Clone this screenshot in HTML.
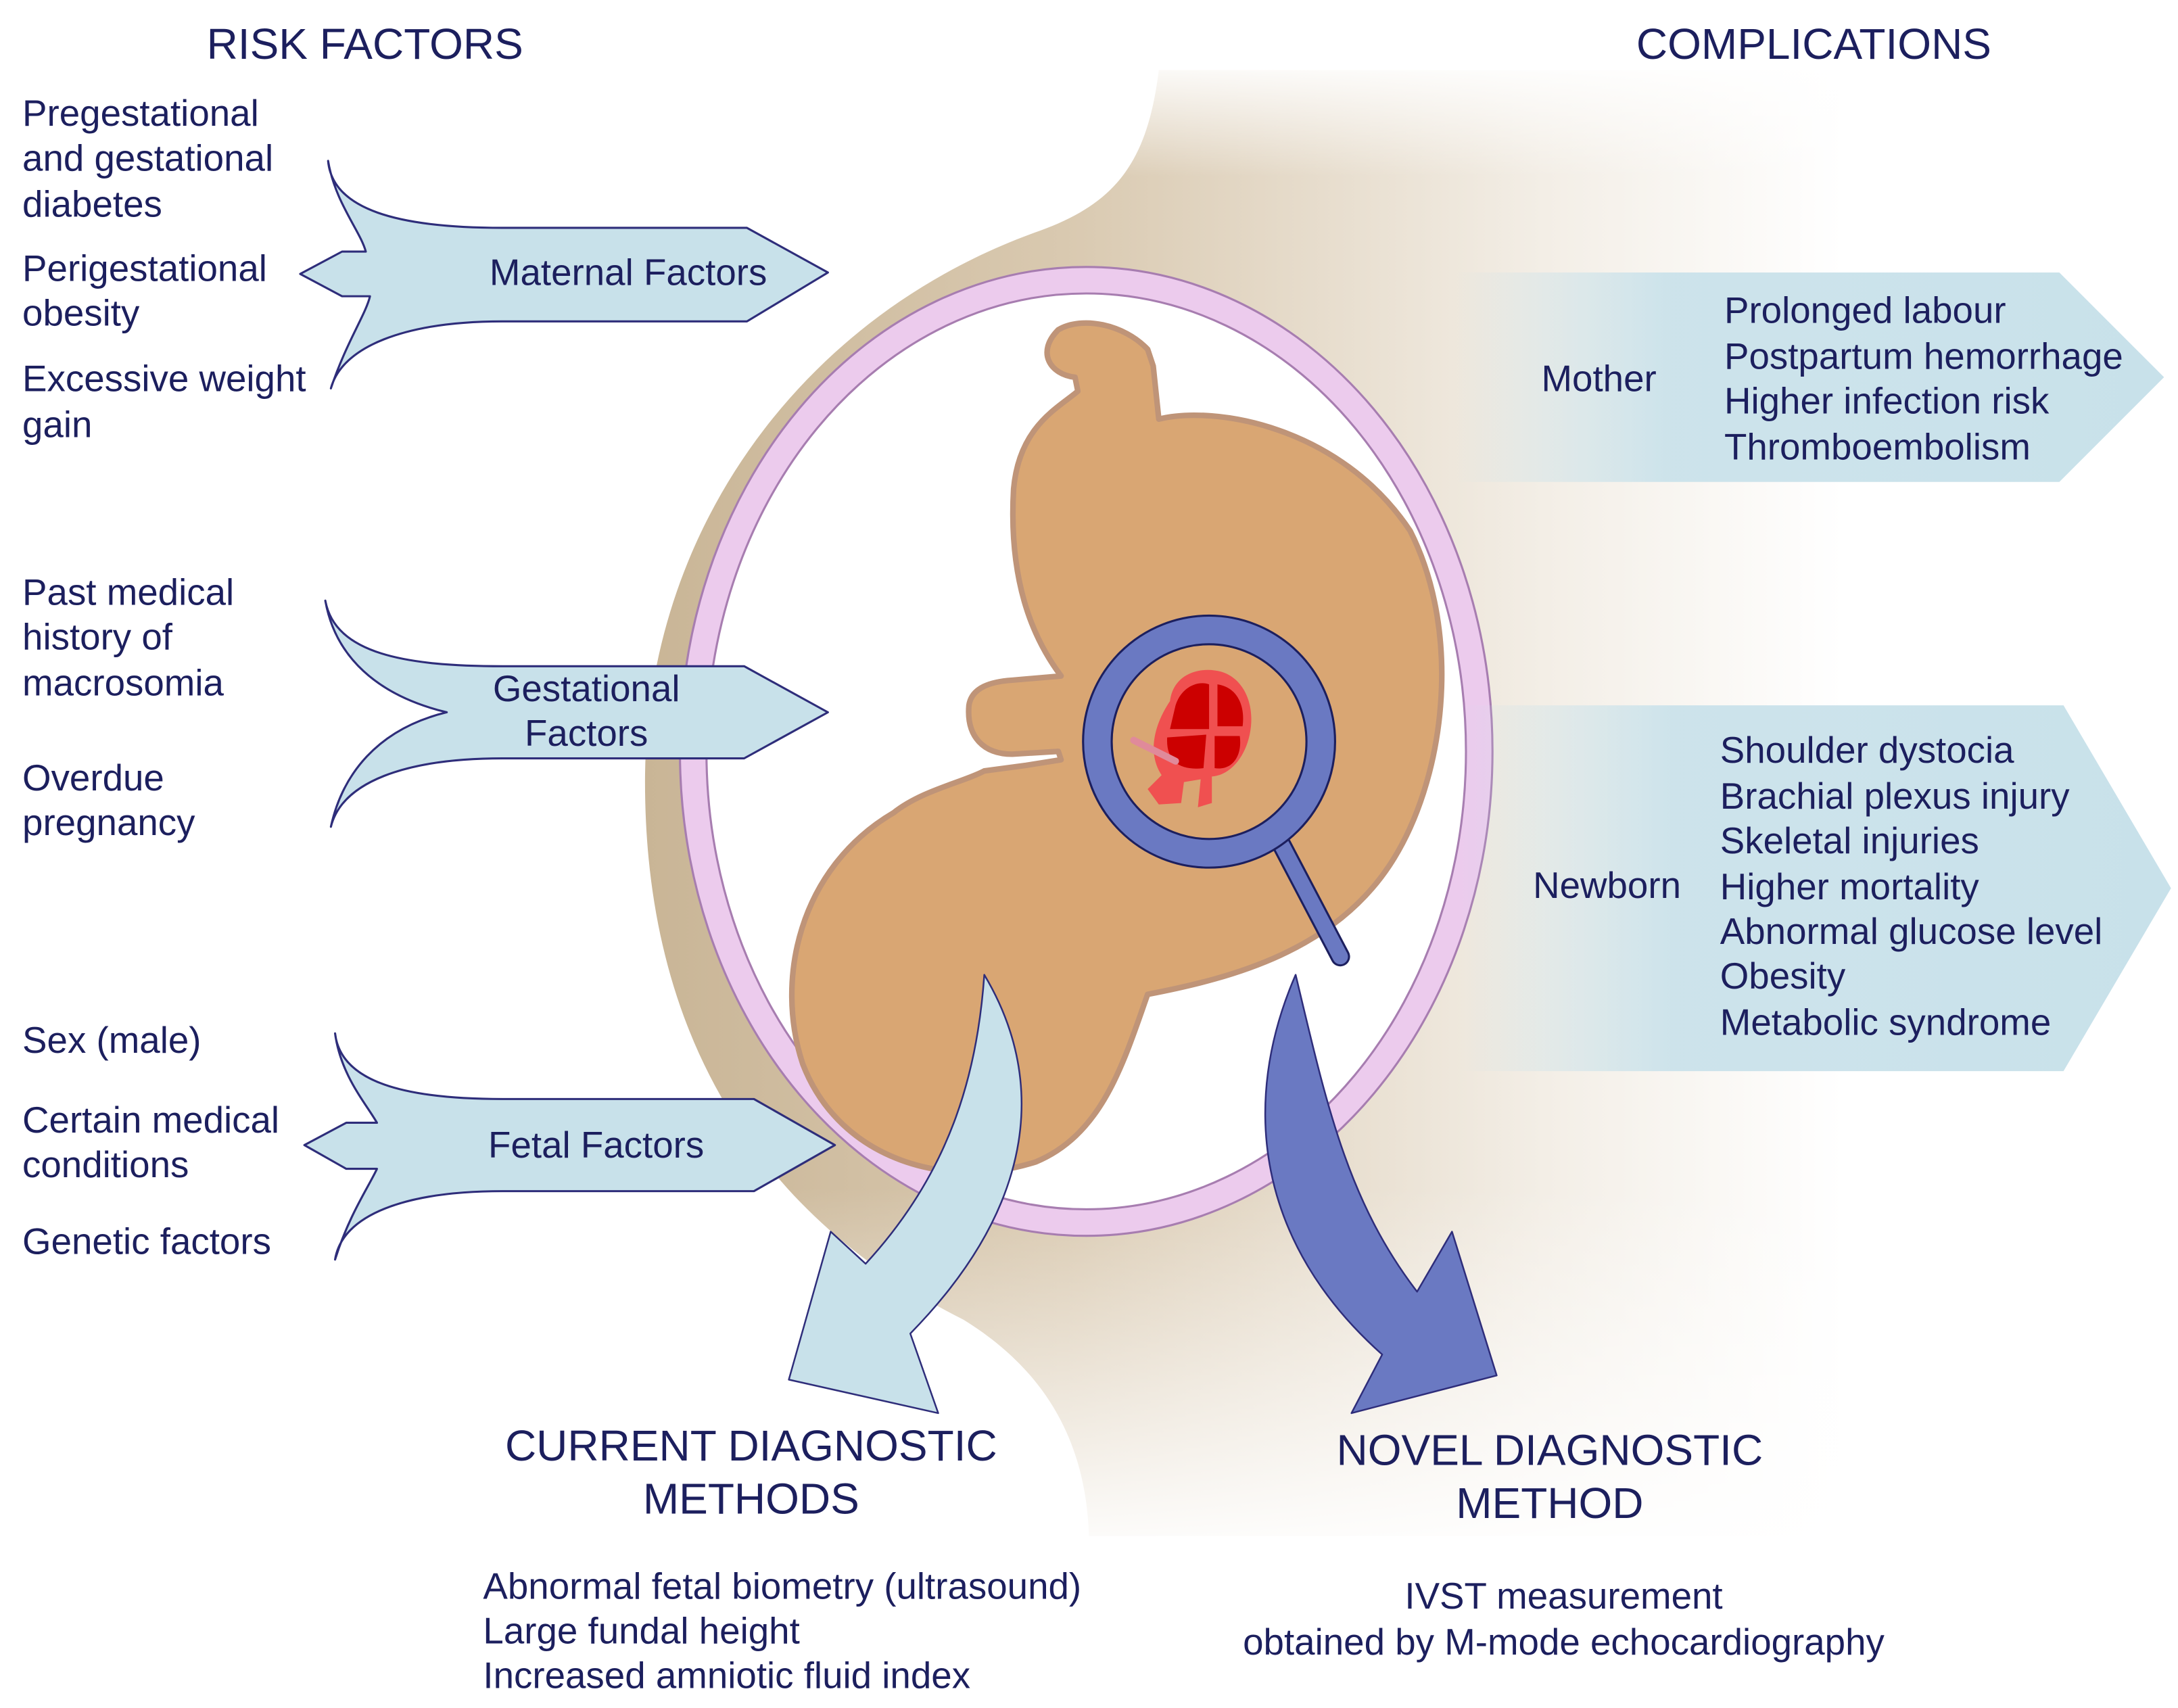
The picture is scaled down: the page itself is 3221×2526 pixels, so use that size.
<!DOCTYPE html>
<html><head><meta charset="utf-8"><style>
html,body{margin:0;padding:0;background:#fff;}
svg{display:block;}
text{font-family:"Liberation Sans",sans-serif;fill:#1c1f5e;}
</style></head><body>
<svg width="3221" height="2526" viewBox="0 0 1560 1223" xmlns="http://www.w3.org/2000/svg">
<defs>
<linearGradient id="bel" x1="0" y1="0" x2="1" y2="0">
<stop offset="0" stop-color="#c9b596"/>
<stop offset="0.35" stop-color="#d9c9b0"/>
<stop offset="0.75" stop-color="#f3eee6"/>
<stop offset="1" stop-color="#ffffff"/>
</linearGradient>
<linearGradient id="belv" x1="0" y1="0" x2="0" y2="1">
<stop offset="0" stop-color="#fff" stop-opacity="1"/>
<stop offset="0.08" stop-color="#fff" stop-opacity="0"/>
<stop offset="0.75" stop-color="#fff" stop-opacity="0"/>
<stop offset="1" stop-color="#fff" stop-opacity="1"/>
</linearGradient>
<linearGradient id="rb" x1="0" y1="0" x2="1" y2="0">
<stop offset="0" stop-color="#c8e1ea" stop-opacity="0"/>
<stop offset="0.3" stop-color="#c8e1ea" stop-opacity="0.9"/>
<stop offset="1" stop-color="#c8e1ea"/>
</linearGradient>
</defs>
<rect width="1560" height="1223" fill="#fff"/>
<path d="M830,50 C822,115 800,145 745,165 C575,225 462,380 462,560 C462,760 560,880 690,945 C755,985 778,1040 780,1100 L1320,1100 L1320,50 Z" fill="url(#bel)"/>
<rect x="450" y="40" width="900" height="1080" fill="url(#belv)"/>
<ellipse cx="778" cy="538" rx="291" ry="347" fill="#eccbed" stroke="#a77db0" stroke-width="1.5"/>
<ellipse cx="778" cy="538" rx="272" ry="328" fill="#fff" stroke="#a77db0" stroke-width="1.5"/>
<path d="M758,236 C775,226 805,232 822,250 L826,262 L830,300 C870,290 960,305 1010,380 C1048,455 1035,560 995,620 C955,680 885,700 822,712 C805,760 790,812 742,832 C680,852 602,832 575,762 C555,702 572,622 640,582 C660,566 690,560 705,552 L735,548 L760,544 L758,538 L725,540 C705,540 692,528 694,505 C696,492 710,488 725,487 L760,484 C742,460 722,420 726,350 C730,305 758,292 772,280 L770,270 C752,268 742,252 758,236 Z" fill="#d9a673" stroke="#bf9478" stroke-width="4" stroke-linejoin="round"/>
<g>
<path d="M838,502 C840,485 855,478 870,480 C888,482 898,500 896,520 C894,540 882,555 868,556 L868,575 L858,578 L860,558 L848,560 L846,575 L830,576 L822,565 L832,555 C822,540 826,520 838,502 Z" fill="#f05050"/>
<path d="M842,505 C846,492 858,487 866,490 L866,522 L838,522 Z" fill="#c00"/>
<path d="M872,490 C886,492 892,505 890,520 L872,520 Z" fill="#c00"/>
<path d="M836,528 L864,526 L862,550 C845,552 835,545 836,528 Z" fill="#c00"/>
<path d="M870,527 L888,527 C890,542 882,552 870,550 Z" fill="#c00"/>
<path d="M812,530 L842,545" stroke="#e08a9a" stroke-width="5" stroke-linecap="round"/>
</g>
<line x1="918" y1="605" x2="960" y2="685" stroke="#1c1f5e" stroke-width="14" stroke-linecap="round"/>
<line x1="918" y1="605" x2="960" y2="685" stroke="#6a79c2" stroke-width="11" stroke-linecap="round"/>
<circle cx="866" cy="531" r="80" fill="none" stroke="#1c1f5e" stroke-width="22"/>
<circle cx="866" cy="531" r="80" fill="none" stroke="#6a79c2" stroke-width="19"/>
<g fill="#c8e1ea" stroke="#2e2d7a" stroke-width="1.5" stroke-linejoin="round">
<path d="M235,115 C238,150 285,163 360,163 L535,163 L593,195 L535,230 L360,230 C290,230 245,248 237,278 C248,245 262,225 265,212 L245,212 L215,196 L245,180 L262,180 C258,165 240,145 235,115 Z"/>
<path d="M233,430 C240,468 290,477 360,477 L533,477 L593,510 L533,543 L360,543 C290,543 245,560 237,592 C245,555 270,522 320,510 C270,498 240,470 233,430 Z"/>
<path d="M240,740 C244,775 290,787 360,787 L540,787 L598,820 L540,853 L360,853 C290,853 245,870 240,902 C250,870 264,850 270,837 L248,837 L218,820 L248,804 L270,804 C262,790 244,770 240,740 Z"/>
</g>
<path d="M1040,195 L1475,195 L1550,270 L1475,345 L1040,345 Z" fill="url(#rb)"/>
<path d="M1045,505 L1478,505 L1555,636 L1478,767 L1045,767 Z" fill="url(#rb)"/>
<path d="M705,698 C748,770 745,860 652,955 L672,1012 L565,988 L595,882 L620,905 C680,840 700,770 705,698 Z" fill="#c8e1ea" stroke="#2e2d7a" stroke-width="1.2" stroke-linejoin="round"/>
<path d="M928,698 C950,790 965,860 1015,925 L1040,882 L1072,985 L968,1012 L990,970 C900,890 888,790 928,698 Z" fill="#6a79c2" stroke="#2e2d7a" stroke-width="1.2" stroke-linejoin="round"/>
<g font-size="31">
<text x="148" y="42">RISK FACTORS</text>
<text x="1172" y="42">COMPLICATIONS</text>
<text x="538" y="1046" text-anchor="middle">CURRENT DIAGNOSTIC</text>
<text x="538" y="1084" text-anchor="middle">METHODS</text>
<text x="1110" y="1049" text-anchor="middle">NOVEL DIAGNOSTIC</text>
<text x="1110" y="1087" text-anchor="middle">METHOD</text>
</g>
<g font-size="26.5">
<text x="16" y="90">Pregestational</text>
<text x="16" y="122">and gestational</text>
<text x="16" y="155">diabetes</text>
<text x="16" y="201">Perigestational</text>
<text x="16" y="233">obesity</text>
<text x="16" y="280">Excessive weight</text>
<text x="16" y="313">gain</text>
<text x="16" y="433">Past medical</text>
<text x="16" y="465">history of</text>
<text x="16" y="498">macrosomia</text>
<text x="16" y="566">Overdue</text>
<text x="16" y="598">pregnancy</text>
<text x="16" y="754">Sex (male)</text>
<text x="16" y="811">Certain medical</text>
<text x="16" y="843">conditions</text>
<text x="16" y="898">Genetic factors</text>
<text x="450" y="204" text-anchor="middle">Maternal Factors</text>
<text x="420" y="502" text-anchor="middle">Gestational</text>
<text x="420" y="534" text-anchor="middle">Factors</text>
<text x="427" y="829" text-anchor="middle">Fetal Factors</text>
<text x="1104" y="280">Mother</text>
<text x="1235" y="231">Prolonged labour</text>
<text x="1235" y="264">Postpartum hemorrhage</text>
<text x="1235" y="296">Higher infection risk</text>
<text x="1235" y="329">Thromboembolism</text>
<text x="1098" y="643">Newborn</text>
<text x="1232" y="546">Shoulder dystocia</text>
<text x="1232" y="579">Brachial plexus injury</text>
<text x="1232" y="611">Skeletal injuries</text>
<text x="1232" y="644">Higher mortality</text>
<text x="1232" y="676">Abnormal glucose level</text>
<text x="1232" y="708">Obesity</text>
<text x="1232" y="741">Metabolic syndrome</text>
<text x="346" y="1145">Abnormal fetal biometry (ultrasound)</text>
<text x="346" y="1177">Large fundal height</text>
<text x="346" y="1209">Increased amniotic fluid index</text>
<text x="1120" y="1152" text-anchor="middle">IVST measurement</text>
<text x="1120" y="1185" text-anchor="middle">obtained by M-mode echocardiography</text>
</g>
</svg>
</body></html>
